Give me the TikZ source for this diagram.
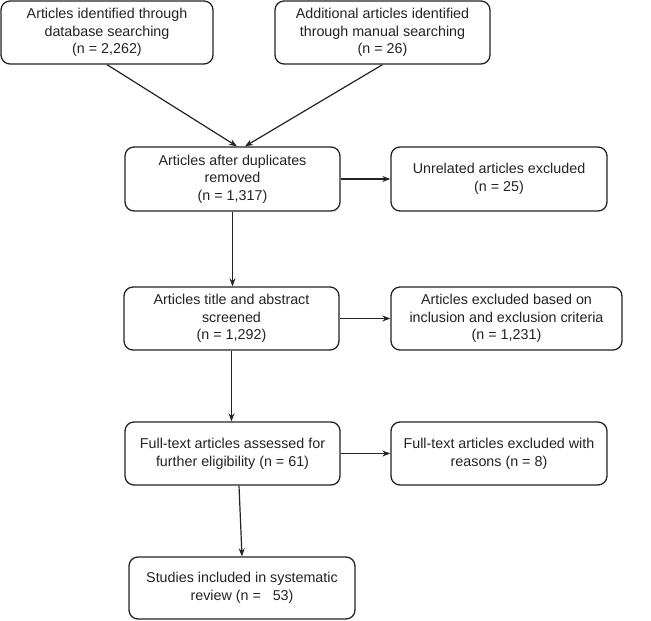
\documentclass[tikz,border=0pt]{standalone}
\usepackage{fontspec}
\setmainfont{Liberation Sans}
\usetikzlibrary{arrows.meta}
\definecolor{flowInk}{RGB}{35,35,35}

\begin{document}
\begin{tikzpicture}[x=1pt, y=-1pt,
        stage/.style={rectangle, draw=flowInk, line width=1.3pt, rounded corners=9pt, fill=white, align=center, text=flowInk, font=\fontsize{14.3}{17.6}\selectfont, inner sep=2pt},
        flow/.style={draw=flowInk, line width=1.2pt, -{Stealth[length=8pt, width=6pt]}}
    ]
        \useasboundingbox (0,0) rectangle (651,621);
        % identification
        \node[stage, minimum width=212pt, minimum height=63pt] (dbsearch) at (107,32.5) {Articles identified through\\database searching\\(n = 2,262)};
        \node[stage, minimum width=215pt, minimum height=63pt] (manual) at (382.5,32.5) {Additional articles identified\\through manual searching\\(n = 26)};
        % screening
        \node[stage, minimum width=215pt, minimum height=64pt] (dedup) at (232.5,179) {Articles after duplicates\\removed\\(n = 1,317)};
        \node[stage, minimum width=216pt, minimum height=64pt] (unrelated) at (499,179) {Unrelated articles excluded\\(n = 25)};
        \node[stage, minimum width=215pt, minimum height=63pt] (screened) at (231.5,318.5) {Articles title and abstract\\screened\\(n = 1,292)};
        \node[stage, minimum width=231pt, minimum height=63pt] (criteria) at (506.5,318.5) {Articles excluded based on\\inclusion and exclusion criteria\\(n = 1,231)};
        % eligibility
        \node[stage, minimum width=215pt, minimum height=63pt] (fulltext) at (232.5,453.5) {Full-text articles assessed for\\further eligibility (n = 61)};
        \node[stage, minimum width=216pt, minimum height=63pt] (reasons) at (499,453.5) {Full-text articles excluded with\\reasons (n = 8)};
        % included
        \node[stage, minimum width=226pt, minimum height=62pt] (included) at (242,588) {Studies included in systematic\\review (n =\ \ \ 53)};

        \draw[flow] (dbsearch.south) -- ([xshift=4.5pt]dedup.north);
        \draw[flow] (manual.south) -- ([xshift=12.5pt]dedup.north);
        \draw[flow] (dedup.east) -- (unrelated.west);
        \draw[flow] (dedup.south) -- (dedup.south |- screened.north);
        \draw[flow] (screened.east) -- (criteria.west);
        \draw[flow] (screened.south) -- (screened.south |- fulltext.north);
        \draw[flow] (fulltext.east) -- (reasons.west);
        \draw[flow] ([xshift=-3pt]included.north |- fulltext.south) -- (included.north);
    \end{tikzpicture}
\end{document}
